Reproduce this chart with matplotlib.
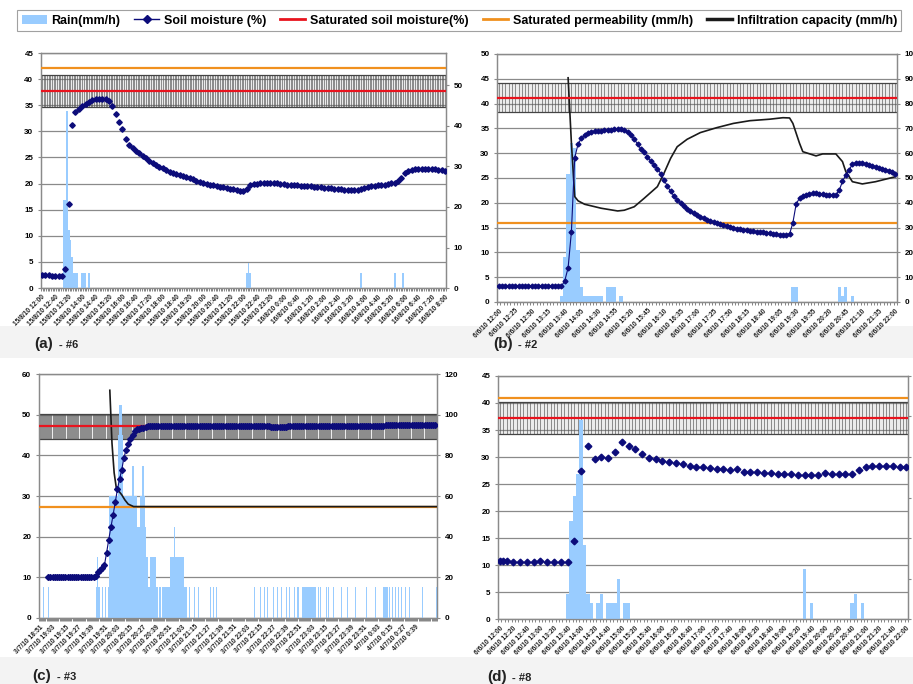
import numpy as np
import matplotlib.pyplot as plt
from matplotlib.lines import Line2D
from matplotlib.patches import Patch, Rectangle

plt.rcParams['font.family'] = ['Liberation Sans', 'DejaVu Sans']
plt.rcParams['font.weight'] = 'bold'

RAIN_C = '#99ccff'
SOIL_C = '#0c0c7a'
SAT_C = '#e8141e'
PERM_C = '#f0901e'
INF_C = '#1a1a1a'
GRID_C = '#8a8a8a'
SAT_ERR = 3.0   # +/- band drawn round the saturated soil moisture

# ---------------- (a) #6 : 5-min slots, soil moisture every 10 min
a_ticklabels = ['15/8/10 12:00', '15/8/10 12:40', '15/8/10 13:20', '15/8/10 14:00', '15/8/10 14:40',
                '15/8/10 15:20', '15/8/10 16:00', '15/8/10 16:40', '15/8/10 17:20', '15/8/10 18:00',
                '15/8/10 18:40', '15/8/10 19:20', '15/8/10 20:00', '15/8/10 20:40', '15/8/10 21:20',
                '15/8/10 22:00', '15/8/10 22:40', '15/8/10 23:20', '16/8/10 0:00', '16/8/10 0:40',
                '16/8/10 1:20', '16/8/10 2:00', '16/8/10 2:40', '16/8/10 3:20', '16/8/10 4:00',
                '16/8/10 4:40', '16/8/10 5:20', '16/8/10 6:00', '16/8/10 6:40', '16/8/10 7:20',
                '16/8/10 8:00']
a_nslot = 241
a_label_every = 8
a_soil_slot = list(range(0, 241, 2))
a_soil = [2.4, 2.4, 2.4, 2.3, 2.3, 2.3, 2.3, 3.7, 16.0, 31.2,
          33.8, 34.3, 34.9, 35.3, 35.7, 36.0, 36.1, 36.1, 36.2, 36.1,
          35.9, 34.9, 33.3, 31.7, 30.4, 28.6, 27.4, 26.8, 26.3, 25.8,
          25.3, 24.9, 24.4, 24.0, 23.6, 23.2, 22.9, 22.6, 22.2, 22.0,
          21.8, 21.6, 21.4, 21.2, 21.0, 20.8, 20.5, 20.3, 20.1, 20.0,
          19.8, 19.7, 19.5, 19.4, 19.3, 19.1, 19.0, 18.9, 18.7, 18.6,
          18.5, 18.9, 19.7, 19.9, 20.0, 20.1, 20.1, 20.1, 20.2, 20.1,
          20.1, 20.0, 19.9, 19.8, 19.8, 19.7, 19.7, 19.6, 19.6, 19.5,
          19.5, 19.4, 19.4, 19.3, 19.2, 19.2, 19.1, 19.0, 19.0, 18.9,
          18.8, 18.8, 18.7, 18.7, 18.8, 18.9, 19.1, 19.3, 19.5, 19.5,
          19.7, 19.8, 19.8, 19.9, 20.1, 20.2, 20.5, 21.1, 22.0, 22.4,
          22.6, 22.7, 22.7, 22.7, 22.7, 22.8, 22.7, 22.7, 22.6, 22.6,
          22.5]
a_rain_slot = [13, 14, 15, 16, 17, 18, 19, 20, 21, 24, 25, 26, 28, 122, 123, 124, 190, 210, 215]
a_rain = [21.8, 21.8, 43.6, 14.3, 11.9, 7.7, 3.7, 3.7, 3.7, 3.7, 3.7, 3.7, 3.7,
          3.7, 6.2, 3.7, 3.7, 3.7, 3.7]
a_infil_slot = []
a_infil = []
a_sat = 37.7
a_perm = 54.4

# ---------------- (b) #2 : 5-min slots
b_ticklabels = ['6/6/10 12:00', '6/6/10 12:25', '6/6/10 12:50', '6/6/10 13:15', '6/6/10 13:40',
                '6/6/10 14:05', '6/6/10 14:30', '6/6/10 14:55', '6/6/10 15:20', '6/6/10 15:45',
                '6/6/10 16:10', '6/6/10 16:35', '6/6/10 17:00', '6/6/10 17:25', '6/6/10 17:50',
                '6/6/10 18:15', '6/6/10 18:40', '6/6/10 19:05', '6/6/10 19:30', '6/6/10 19:55',
                '6/6/10 20:20', '6/6/10 20:45', '6/6/10 21:10', '6/6/10 21:35', '6/6/10 22:00']
b_nslot = 121
b_label_every = 5
b_soil_slot = list(range(0, 121))
b_soil = [3.2, 3.2, 3.2, 3.2, 3.2, 3.2, 3.2, 3.2, 3.2, 3.2,
          3.2, 3.2, 3.2, 3.2, 3.2, 3.2, 3.2, 3.2, 3.2, 3.2,
          4.3, 6.9, 14.2, 29.1, 31.8, 33.0, 33.6, 34.0, 34.2, 34.4,
          34.5, 34.5, 34.6, 34.6, 34.7, 34.8, 34.9, 34.8, 34.6, 34.2,
          33.6, 32.8, 31.9, 30.8, 30.2, 29.3, 28.4, 27.7, 26.9, 25.9,
          24.6, 23.4, 22.3, 21.4, 20.6, 19.9, 19.3, 18.8, 18.3, 17.9,
          17.5, 17.2, 16.9, 16.6, 16.4, 16.1, 15.9, 15.7, 15.5, 15.3,
          15.1, 14.9, 14.8, 14.7, 14.6, 14.5, 14.4, 14.3, 14.2, 14.2,
          14.1, 14.0, 13.9, 13.8, 13.7, 13.6, 13.6, 13.6, 13.7, 16.0,
          19.8, 20.9, 21.3, 21.6, 21.8, 21.9, 21.9, 21.8, 21.7, 21.6,
          21.6, 21.5, 21.6, 22.5, 24.3, 25.6, 26.6, 27.8, 28.0, 28.1,
          28.0, 27.9, 27.7, 27.5, 27.3, 27.1, 26.9, 26.7, 26.5, 26.2,
          25.8]
b_rain_slot = [19, 20, 21, 22, 23, 24, 25, 26, 27, 28, 29, 30, 31, 33, 34, 35, 37,
               89, 90, 103, 104, 105, 107]
b_rain = [2.4, 18.2, 51.8, 64.0, 62.0, 21.0, 6.2, 2.6, 2.6, 2.6, 2.6, 2.6, 2.6, 6.2, 6.2, 6.2, 2.6,
          6.2, 6.2, 6.2, 2.6, 6.2, 2.6]
b_infil_slot = [21, 22, 23, 24, 26, 31, 36, 38, 41, 44, 48, 50, 52, 54, 57, 61, 66, 71, 76,
                82, 86, 88, 89, 91, 92, 96, 98, 102, 104, 105, 107, 110, 114, 120]
b_infil = [90.4, 64.0, 42.5, 40.8, 39.4, 37.8, 36.7, 37.0, 38.4, 41.8, 46.5, 51.9, 57.9, 62.6,
           65.6, 68.3, 70.3, 72.0, 73.1, 73.7, 74.3, 74.2, 72.0, 64.0, 60.6, 58.9, 59.7, 59.7,
           56.6, 52.6, 48.5, 47.6, 48.5, 50.5]
b_sat = 41.2
b_perm = 31.8

# ---------------- (c) #3 : 1-min slots, soil moisture every 2 min
c_ticklabels = ['3/7/10 18:51', '3/7/10 19:03', '3/7/10 19:15', '3/7/10 19:27', '3/7/10 19:39',
                '3/7/10 19:51', '3/7/10 20:03', '3/7/10 20:15', '3/7/10 20:27', '3/7/10 20:39',
                '3/7/10 20:51', '3/7/10 21:03', '3/7/10 21:15', '3/7/10 21:27', '3/7/10 21:39',
                '3/7/10 21:51', '3/7/10 22:03', '3/7/10 22:15', '3/7/10 22:27', '3/7/10 22:39',
                '3/7/10 22:51', '3/7/10 23:03', '3/7/10 23:15', '3/7/10 23:27', '3/7/10 23:39',
                '3/7/10 23:51', '4/7/10 0:03', '4/7/10 0:15', '4/7/10 0:27', '4/7/10 0:39']
c_nslot = 368
c_label_every = 12
c_soil_slot = list(range(8, 368, 2))
c_soil = [10.1, 10.1, 10.0, 10.0, 10.0, 10.0, 10.0, 10.0, 10.0, 10.0,
          10.0, 10.0, 10.0, 10.0, 10.0, 10.0, 10.0, 10.0, 10.0, 10.0,
          10.0, 10.0, 10.4, 11.2, 11.7, 12.3, 13.0, 16.0, 19.3, 22.3,
          25.3, 28.5, 31.6, 34.2, 36.4, 39.4, 41.3, 42.8, 44.0, 45.1,
          46.1, 46.5, 46.6, 46.7, 46.8, 47.0, 47.2, 47.2, 47.2, 47.2,
          47.2, 47.2, 47.2, 47.2, 47.2, 47.2, 47.2, 47.2, 47.2, 47.2,
          47.2, 47.2, 47.2, 47.2, 47.2, 47.2, 47.2, 47.2, 47.2, 47.2,
          47.2, 47.2, 47.2, 47.2, 47.2, 47.2, 47.2, 47.2, 47.2, 47.2,
          47.2, 47.2, 47.2, 47.2, 47.2, 47.2, 47.2, 47.2, 47.2, 47.2,
          47.2, 47.2, 47.2, 47.2, 47.2, 47.2, 47.2, 47.1, 47.1, 47.1,
          47.1, 47.1, 47.1, 47.0, 47.0, 47.0, 47.0, 47.0, 47.0, 47.0,
          47.0, 47.1, 47.1, 47.1, 47.1, 47.1, 47.1, 47.1, 47.1, 47.1,
          47.1, 47.1, 47.1, 47.1, 47.1, 47.1, 47.1, 47.2, 47.2, 47.2,
          47.2, 47.2, 47.2, 47.2, 47.2, 47.2, 47.2, 47.2, 47.2, 47.2,
          47.2, 47.2, 47.2, 47.2, 47.2, 47.2, 47.3, 47.3, 47.3, 47.3,
          47.3, 47.3, 47.3, 47.3, 47.3, 47.3, 47.4, 47.4, 47.4, 47.4,
          47.4, 47.4, 47.4, 47.4, 47.4, 47.4, 47.4, 47.5, 47.5, 47.5,
          47.5, 47.5, 47.5, 47.5, 47.5, 47.5, 47.5, 47.5, 47.5, 47.5]
c_rain_slot = [0, 4, 8, 53, 54, 55, 58, 61, 64,
               65, 66, 67, 68, 69, 70, 71, 72, 73, 74, 75, 76, 77,
               78, 79, 80, 81, 82, 83, 84, 85, 86, 87, 88, 89, 90, 91, 92, 93, 94, 95, 96, 97,
               98, 99, 100, 101, 102, 103, 104, 105, 106, 107, 108, 109, 111, 112,
               114, 115, 116, 117, 118, 119, 120,
               121, 122, 123, 124, 125, 126, 127, 128, 129, 130, 131, 132, 133,
               134, 135, 136, 139, 143, 147, 158, 161, 164,
               199, 204, 208, 211, 216, 220, 224, 228, 231, 236, 239,
               243, 244, 245, 246, 247, 248, 249, 250, 251, 252, 253, 254, 255,
               258, 260, 265, 267, 272, 279, 285, 292, 302, 311,
               318, 319, 320, 321, 322, 324, 326, 329, 332, 335, 338, 342, 354, 367]
c_rain = [15, 15, 15, 15, 30, 15, 15, 15, 15,
          60, 60, 60, 60, 60, 60, 60, 60, 90, 105, 105, 105, 90,
          60, 60, 60, 60, 60, 60, 60, 60, 75, 75, 60, 60, 60, 45, 45, 60, 60, 75, 75, 60,
          45, 30, 30, 15, 15, 30, 30, 30, 30, 30, 15, 15, 15, 15,
          15, 15, 15, 15, 15, 15, 15,
          30, 30, 30, 30, 45, 30, 30, 30, 30, 30, 30, 30, 30,
          15, 15, 15, 15, 15, 15, 15, 15, 15,
          15, 15, 15, 15, 15, 15, 15, 15, 15, 15, 15,
          15, 15, 15, 15, 15, 15, 15, 15, 15, 15, 15, 15, 15,
          15, 15, 15, 15, 15, 15, 15, 15, 15, 15,
          15, 15, 15, 15, 15, 15, 15, 15, 15, 15, 15, 15, 15, 15]
c_infil_slot = [65, 67, 69, 71, 73, 76, 79, 82, 87, 367]
c_infil = [112.0, 86.0, 71.4, 64.0, 62.6, 60.6, 58.0, 56.0, 54.8, 54.8]
c_sat = 47.1
c_perm = 54.6

# ---------------- (d) #8 : 5-min slots
d_ticklabels = ['6/6/10 12:00', '6/6/10 12:20', '6/6/10 12:40', '6/6/10 13:00', '6/6/10 13:20',
                '6/6/10 13:40', '6/6/10 14:00', '6/6/10 14:20', '6/6/10 14:40', '6/6/10 15:00',
                '6/6/10 15:20', '6/6/10 15:40', '6/6/10 16:00', '6/6/10 16:20', '6/6/10 16:40',
                '6/6/10 17:00', '6/6/10 17:20', '6/6/10 17:40', '6/6/10 18:00', '6/6/10 18:20',
                '6/6/10 18:40', '6/6/10 19:00', '6/6/10 19:20', '6/6/10 19:40', '6/6/10 20:00',
                '6/6/10 20:20', '6/6/10 20:40', '6/6/10 21:00', '6/6/10 21:20', '6/6/10 21:40',
                '6/6/10 22:00']
d_nslot = 121
d_label_every = 4
d_soil_slot = [0, 1, 2] + list(range(4, 121, 2))
d_soil = [10.8, 10.8, 10.8, 10.5, 10.5, 10.5, 10.5, 10.8, 10.5, 10.5, 10.5, 10.5,
          14.5, 27.4, 32.0, 29.7, 30.0, 29.9, 30.9, 32.7, 32.0, 31.4, 30.5, 29.9,
          29.6, 29.3, 29.1, 28.8, 28.7, 28.4, 28.2, 28.1, 27.9, 27.8, 27.7, 27.6,
          27.8, 27.3, 27.3, 27.2, 27.0, 27.0, 26.9, 26.8, 26.8, 26.6, 26.6, 26.6,
          26.7, 27.0, 26.9, 26.9, 26.9, 26.9, 27.6, 28.2, 28.4, 28.4, 28.4, 28.4,
          28.2, 28.2]
d_rain_slot = [20, 21, 22, 23, 24, 25, 26, 27, 29, 30, 32, 33, 34, 35, 37, 38, 90, 92, 104, 105, 107]
d_rain = [6.3, 24.1, 30.3, 35.9, 49.2, 18.3, 6.3, 3.9, 3.9, 6.3, 3.9, 3.9, 3.9, 9.9, 3.9, 3.9,
          12.3, 3.9, 3.9, 6.3, 3.9]
d_infil_slot = []
d_infil = []
d_sat = 37.2
d_perm = 54.5


def DrawPanel(rect, nslot, labels, every, soil_slot, soil, rain_slot, rain, infil_slot, infil,
              sat, perm, left_max, left_step, right_max, right_step, soil_line, msize):
    ax = fig.add_axes(rect)
    ax.set_ylim(0, left_max)
    ax.set_yticks(np.arange(0, left_max + 0.01, left_step))
    ax.yaxis.grid(True, color=GRID_C, lw=0.9)
    ax.set_axisbelow(True)

    # saturated moisture with its error bars, one per slot
    centers = np.arange(nslot) + 0.5
    lo, hi = sat - SAT_ERR, sat + SAT_ERR
    ax.axhspan(lo, hi, color='#ececec', lw=0, zorder=0.5)
    ax.vlines(centers, lo, hi, color='#555555', lw=0.45, zorder=1)
    ax.hlines([lo, hi], 0, nslot, color='#444444', lw=0.9, zorder=1)

    ax2 = ax.twinx()
    ax2.set_ylim(0, right_max)
    ax2.set_yticks(np.arange(0, right_max + 0.01, right_step))
    ax2.bar(np.array(rain_slot) + 0.5, rain, width=1.0, color=RAIN_C, lw=0, zorder=2)
    ax2.axhline(perm, color=PERM_C, lw=1.6, zorder=3)
    if len(infil) > 0:
        ax2.plot(np.array(infil_slot) + 0.5, infil, color=INF_C, lw=1.2, zorder=3)
    ax2.plot([0, nslot], [sat, sat], transform=ax.transData, color=SAT_C, lw=1.6, zorder=4)
    ax2.plot(np.array(soil_slot) + 0.5, soil, transform=ax.transData, color=SOIL_C,
             lw=0.8 if soil_line else 0, marker='D', ms=msize, mec=SOIL_C, mfc=SOIL_C, zorder=5)

    for a in (ax, ax2):
        a.set_xlim(0, nslot)
        for s in a.spines.values():
            s.set_color(GRID_C)
            s.set_linewidth(0.9)
    ax.set_xticks(np.arange(0, every * len(labels), every)[:len(labels)] + 0.5)
    ax.set_xticklabels(labels, rotation=45, ha='right', va='top', rotation_mode='anchor',
                       fontsize=4.8, fontweight='bold', color='#222222')
    ax.set_xticks(np.arange(0, nslot + 1), minor=True)
    ax.tick_params(axis='x', which='major', length=0, pad=4)
    ax.tick_params(axis='x', which='minor', length=2.5, width=0.5, color='#555555')
    ax.tick_params(axis='y', length=2.5, color=GRID_C, labelsize=5.8, pad=3)
    ax2.tick_params(axis='y', length=2.5, color=GRID_C, labelsize=5.8, pad=3)
    for t in ax.get_yticklabels() + ax2.get_yticklabels():
        t.set_fontweight('bold')
    return ax


fig = plt.figure(figsize=(9.13, 6.84), dpi=100)
fig.patch.set_facecolor('white')

# light grey strips behind the panel captions
fig.patches.append(Rectangle((0, 0.477), 1, 0.046, transform=fig.transFigure,
                             facecolor='#f3f3f3', edgecolor='none', zorder=-1))
fig.patches.append(Rectangle((0, 0.0), 1, 0.040, transform=fig.transFigure,
                             facecolor='#f3f3f3', edgecolor='none', zorder=-1))

DrawPanel([0.0449, 0.5789, 0.4436, 0.3436], a_nslot, a_ticklabels, a_label_every,
          a_soil_slot, a_soil, a_rain_slot, a_rain, a_infil_slot, a_infil, a_sat, a_perm,
          45, 5, 58, 10, False, 2.8)
DrawPanel([0.5444, 0.5585, 0.4381, 0.3626], b_nslot, b_ticklabels, b_label_every,
          b_soil_slot, b_soil, b_rain_slot, b_rain, b_infil_slot, b_infil, b_sat, b_perm,
          50, 5, 100, 10, True, 2.5)
DrawPanel([0.0427, 0.0965, 0.4359, 0.3567], c_nslot, c_ticklabels, c_label_every,
          c_soil_slot, c_soil, c_rain_slot, c_rain, c_infil_slot, c_infil, c_sat, c_perm,
          60, 10, 120, 20, True, 3.0)
DrawPanel([0.5455, 0.0950, 0.4491, 0.3553], d_nslot, d_ticklabels, d_label_every,
          d_soil_slot, d_soil, d_rain_slot, d_rain, d_infil_slot, d_infil, d_sat, d_perm,
          45, 5, 60, 10, False, 3.4)

# panel captions
captions = [(0.038, 0.491, '(a)', '- #6'), (0.540, 0.491, '(b)', '- #2'),
            (0.035, 0.006, '(c)', '- #3'), (0.534, 0.004, '(d)', '- #8')]
for x, y, tag, site in captions:
    fig.text(x, y, tag, fontsize=11, fontweight='bold', color='#222222')
    fig.text(x + 0.027, y, site, fontsize=8, fontweight='bold', color='#222222')

handles = [Patch(facecolor=RAIN_C, edgecolor='none'),
           Line2D([], [], color=SOIL_C, lw=1, marker='D', ms=4),
           Line2D([], [], color=SAT_C, lw=2),
           Line2D([], [], color=PERM_C, lw=2),
           Line2D([], [], color=INF_C, lw=2.5)]
names = ['Rain(mm/h)', 'Soil moisture (%)', 'Saturated soil moisture(%)',
         'Saturated permeability (mm/h)', 'Infiltration capacity (mm/h)']
leg = fig.legend(handles, names, loc='upper left', bbox_to_anchor=(0.012, 0.994), ncol=5,
                 frameon=True, fancybox=False, edgecolor='#8a8a8a', handlelength=2.0,
                 handletextpad=0.4, columnspacing=1.1, borderpad=0.35,
                 prop={'size': 9, 'weight': 'bold'})
leg.get_frame().set_linewidth(0.8)

fig.savefig('out.png', dpi=100)
